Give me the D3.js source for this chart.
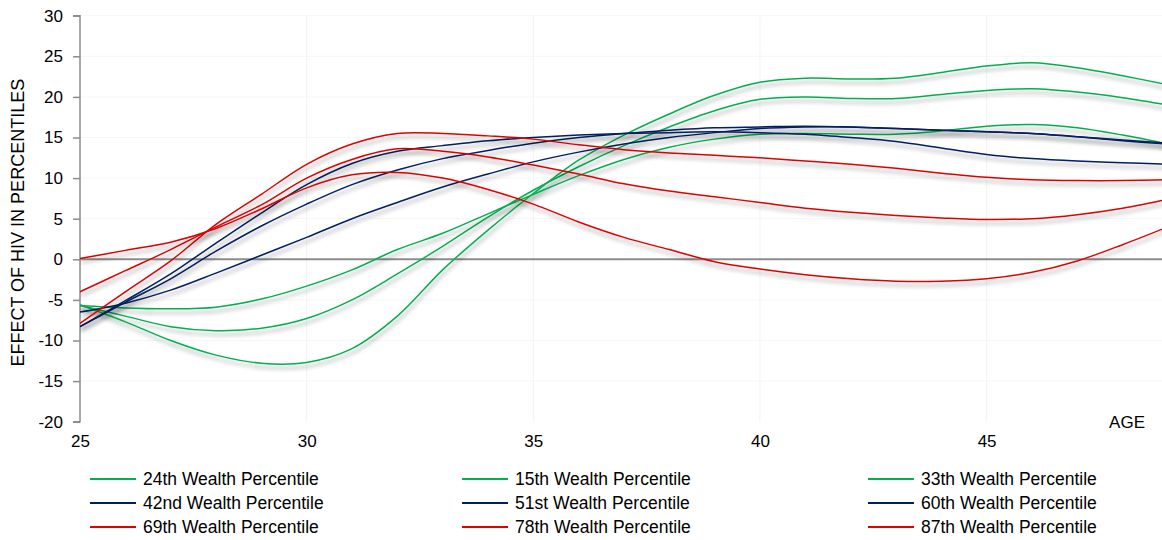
<!DOCTYPE html>
<html>
<head>
<meta charset="utf-8">
<script src="https://cdn.jsdelivr.net/npm/d3@7"></script>
<style>
  html, body { margin: 0; padding: 0; background: #fff; }
  svg { display: block; font-family: "Liberation Sans", Arial, sans-serif; }
</style>
</head>
<body>
<svg id="chart" width="1162" height="540"></svg>
<script>
// ---- data ----
const ages = [25,26,27,28,29,30,31,32,33,34,35,36,37,38,39,40,41,42,43,44,45,46,47,48,49];
const yTicks = [-20,-15,-10,-5,0,5,10,15,20,25,30];
const xTicks = [25,30,35,40,45];

const p15 = [-5.6,-7.7,-10.0,-11.8,-12.8,-12.7,-11.0,-7.0,-1.3,3.6,8.1,12.2,15.3,17.9,20.2,21.8,22.3,22.2,22.3,23.0,23.8,24.2,23.6,22.6,21.5];
const p24 = [-5.7,-7.0,-8.3,-8.8,-8.5,-7.3,-5.0,-1.8,1.6,5.2,8.5,11.4,14.0,16.3,18.3,19.7,20.0,19.8,19.8,20.3,20.8,21.0,20.6,19.9,19.0];
const p33 = [-5.7,-6.0,-6.1,-5.9,-4.9,-3.3,-1.3,1.2,3.2,5.6,8.0,10.3,12.3,13.8,14.8,15.4,15.5,15.4,15.4,15.8,16.4,16.6,16.2,15.3,14.2];
const p42 = [-6.5,-5.4,-3.8,-1.7,0.5,2.7,5.0,7.0,8.9,10.5,12.0,13.2,14.2,15.0,15.6,16.1,16.3,16.3,16.1,15.9,15.7,15.5,15.1,14.6,14.2];
const p51 = [-8.3,-5.3,-2.4,1.0,4.1,6.8,9.2,11.0,12.4,13.4,14.3,15.0,15.5,15.9,16.2,16.3,16.4,16.3,16.1,15.9,15.7,15.5,15.1,14.7,14.3];
const p60 = [-8.3,-5.1,-1.8,2.0,5.7,9.2,11.8,13.3,14.0,14.6,15.0,15.3,15.5,15.6,15.7,15.6,15.4,15.0,14.5,13.7,12.9,12.4,12.1,11.9,11.7];
const p69 = [-7.9,-4.0,-0.2,4.3,8.0,11.7,14.2,15.5,15.5,15.2,14.8,14.1,13.5,13.1,12.8,12.5,12.1,11.7,11.2,10.6,10.1,9.8,9.7,9.7,9.8];
const p78 = [-4.0,-1.4,1.2,4.0,6.7,10.0,12.3,13.6,13.3,12.6,11.6,10.5,9.3,8.4,7.7,7.0,6.3,5.8,5.4,5.1,4.9,5.0,5.5,6.3,7.4];
const p87 = [0.1,1.1,2.1,3.8,6.2,8.8,10.4,10.7,10.0,8.6,6.8,4.6,2.7,1.2,-0.3,-1.2,-1.9,-2.4,-2.7,-2.7,-2.4,-1.6,-0.2,1.8,4.0];

const seriesNames = ["24th Wealth Percentile","15th Wealth Percentile","33th Wealth Percentile",
                     "42nd Wealth Percentile","51st Wealth Percentile","60th Wealth Percentile",
                     "69th Wealth Percentile","78th Wealth Percentile","87th Wealth Percentile"];
const seriesValues = [p24, p15, p33, p42, p51, p60, p69, p78, p87];
const seriesColors = ["#00b050","#00b050","#00b050","#002060","#002060","#002060","#e00000","#e00000","#e00000"];

// ---- chart ----
const svg = d3.select("#chart");
const x = d3.scaleLinear().domain([25, 49]).range([80, 80 + 24 * 45.33]);
const y = d3.scaleLinear().domain([-20, 30]).range([421.7, 15.7]);
const fmt = d => String(d);

const defs = svg.append("defs");
const f = defs.append("filter").attr("id", "shadow")
  .attr("x", "-5%").attr("y", "-20%").attr("width", "110%").attr("height", "160%");
f.append("feGaussianBlur").attr("in", "SourceAlpha").attr("stdDeviation", 2.2).attr("result", "b");
f.append("feOffset").attr("in", "b").attr("dx", 1).attr("dy", 4).attr("result", "o");
f.append("feComponentTransfer").attr("in", "o").attr("result", "s")
  .append("feFuncA").attr("type", "linear").attr("slope", 0.38);
const m = f.append("feMerge");
m.append("feMergeNode").attr("in", "s");
m.append("feMergeNode").attr("in", "SourceGraphic");

defs.append("clipPath").attr("id", "plotclip").append("rect")
  .attr("x", 80).attr("y", 0).attr("width", 1082).attr("height", 430);

// faint gridlines
svg.append("g").selectAll("line").data(xTicks.slice(1)).join("line")
  .attr("x1", d => x(d)).attr("x2", d => x(d))
  .attr("y1", y(30)).attr("y2", y(-20))
  .attr("stroke", "#f3f3f3").attr("stroke-width", 1);
svg.append("g").selectAll("line").data(yTicks.filter(v => v !== 0 && v !== -20)).join("line")
  .attr("x1", 80).attr("x2", 1162)
  .attr("y1", d => y(d)).attr("y2", d => y(d))
  .attr("stroke", "#f6f6f6").attr("stroke-width", 1);

// y axis
const yAxis = svg.append("g").attr("transform", "translate(80,0)")
  .call(d3.axisLeft(y).tickValues(yTicks).tickSize(7).tickPadding(10).tickFormat(fmt));
yAxis.select(".domain").attr("stroke", "#8c8c8c").attr("stroke-width", 1.5).attr("d", `M-7,${y(30)}H0V${y(-20)}H-7`);
yAxis.selectAll(".tick line").attr("stroke", "#8c8c8c").attr("stroke-width", 1.5);
yAxis.selectAll(".tick text").attr("fill", "#000").style("font-size", "17px")
  .style("font-family", '"Liberation Sans", Arial, sans-serif');

// zero line
svg.append("line").attr("x1", 80).attr("x2", 1162).attr("y1", y(0)).attr("y2", y(0))
  .attr("stroke", "#8c8c8c").attr("stroke-width", 2);

// x axis labels (no axis line)
const xAxis = svg.append("g").attr("transform", `translate(0,${y(-20)})`)
  .call(d3.axisBottom(x).tickValues(xTicks).tickSize(0).tickPadding(13).tickFormat(fmt));
xAxis.select(".domain").remove();
xAxis.selectAll(".tick text").attr("fill", "#000").style("font-size", "17px")
  .style("font-family", '"Liberation Sans", Arial, sans-serif');

svg.append("text").attr("x", 1145).attr("y", 428).attr("text-anchor", "end")
  .style("font-size", "17px").text("AGE");

svg.append("text")
  .attr("transform", `translate(24,${(y(30) + y(-20)) / 2 + 4}) rotate(-90)`)
  .attr("text-anchor", "middle").style("font-size", "18px")
  .text("EFFECT OF HIV IN PERCENTILES");

// lines
const line = d3.line()
  .x((d, i) => x(ages[i]))
  .y(d => y(d))
  .curve(d3.curveCatmullRom.alpha(0.5));

svg.append("g").attr("clip-path", "url(#plotclip)")
  .selectAll("path").data(seriesValues).join("path")
  .attr("d", d => line(d))
  .attr("fill", "none")
  .attr("stroke", (d, i) => seriesColors[i])
  .attr("stroke-width", 1.5)
  .attr("filter", "url(#shadow)");

// legend
const colX = [90, 462, 868];
const rowY = [479, 503, 527];
const lg = svg.append("g");
seriesNames.forEach((name, i) => {
  const c = i % 3, r = Math.floor(i / 3);
  lg.append("line")
    .attr("x1", colX[c]).attr("x2", colX[c] + 46)
    .attr("y1", rowY[r]).attr("y2", rowY[r])
    .attr("stroke", seriesColors[i]).attr("stroke-width", 2);
  lg.append("text")
    .attr("x", colX[c] + 53).attr("y", rowY[r] + 6)
    .style("font-size", "17.5px").text(name);
});
</script>
</body>
</html>
